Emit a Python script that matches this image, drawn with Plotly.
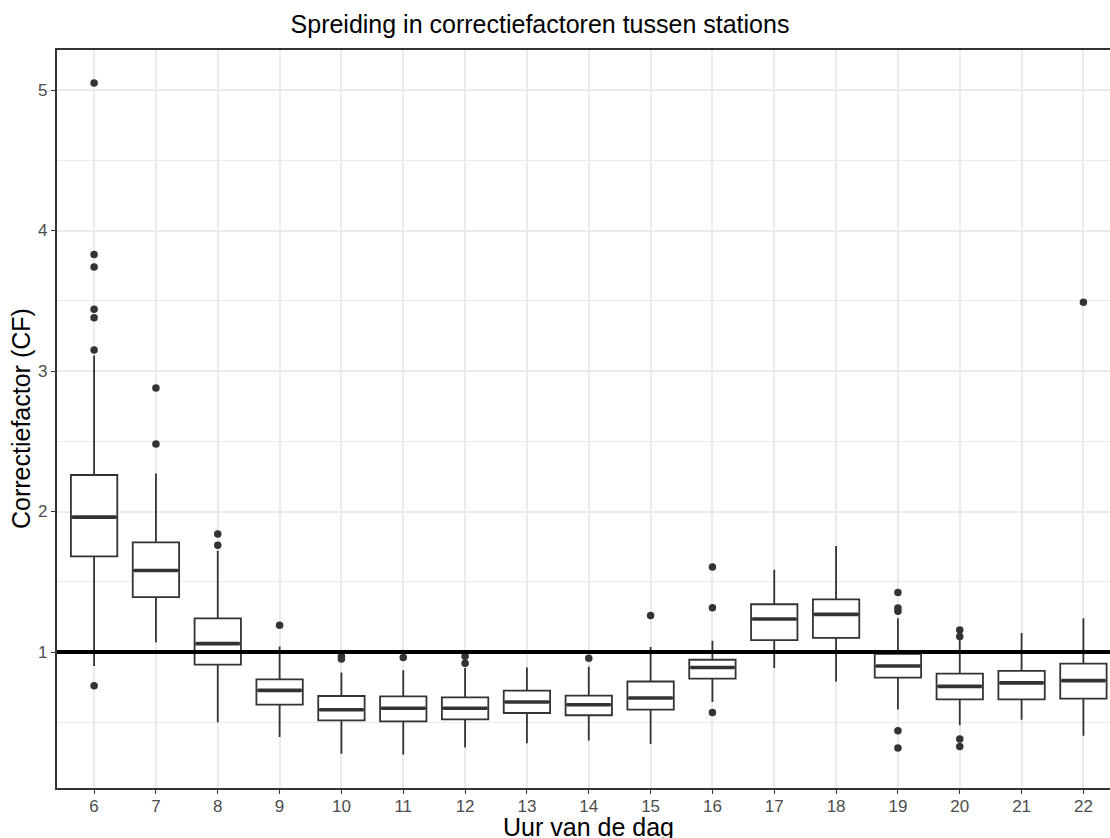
import plotly.graph_objects as go

hours = [6, 7, 8, 9, 10, 11, 12, 13, 14, 15, 16, 17, 18, 19, 20, 21, 22]
lower_whisker = [0.90, 1.07, 0.50, 0.395, 0.276, 0.27, 0.32, 0.35, 0.37, 0.345, 0.644, 0.886, 0.79, 0.59, 0.478, 0.518, 0.404]
q1 = [1.68, 1.39, 0.91, 0.625, 0.513, 0.506, 0.52, 0.566, 0.55, 0.59, 0.81, 1.085, 1.10, 0.817, 0.663, 0.663, 0.668]
median = [1.96, 1.58, 1.06, 0.727, 0.589, 0.60, 0.60, 0.644, 0.625, 0.673, 0.89, 1.235, 1.268, 0.90, 0.755, 0.78, 0.796]
q3 = [2.26, 1.78, 1.24, 0.805, 0.687, 0.684, 0.677, 0.725, 0.69, 0.79, 0.945, 1.34, 1.374, 0.986, 0.846, 0.865, 0.917]
upper_whisker = [3.11, 2.27, 1.72, 1.04, 0.855, 0.87, 0.886, 0.89, 0.895, 1.036, 1.08, 1.586, 1.754, 1.24, 1.088, 1.135, 1.24]

outlier_hours = [6, 6, 6, 6, 6, 6, 6, 7, 7, 8, 8, 9, 10, 10, 11, 12, 12, 14, 15,
                 16, 16, 16, 19, 19, 19, 19, 19, 20, 20, 20, 20, 22]
outlier_values = [5.05, 3.83, 3.74, 3.44, 3.38, 3.15, 0.76, 2.88, 2.48, 1.84, 1.76, 1.19, 0.97, 0.95, 0.96, 0.97, 0.92, 0.955, 1.26,
                  1.605, 1.315, 0.57, 1.424, 1.313, 1.29, 0.44, 0.317, 1.157, 1.11, 0.38, 0.328, 3.49]

reference_value = 1.0
title_text = "Spreiding in correctiefactoren tussen stations"
x_title = "Uur van de dag"
y_title = "Correctiefactor (CF)"

BOX_W = 0.75
DARK = "#333333"
GRID = "#EBEBEB"
FONT = "Liberation Sans, Arial, sans-serif"

fig = go.Figure()

fig.add_trace(go.Box(
    x=hours, q1=q1, median=median, q3=q3,
    lowerfence=lower_whisker, upperfence=upper_whisker,
    width=BOX_W, boxpoints=False, whiskerwidth=0,
    fillcolor="white", line=dict(color=DARK, width=1.8),
    showlegend=False, hoverinfo="skip",
))

# thicker median bars (ggplot style)
mx, my = [], []
for h, m in zip(hours, median):
    mx += [h - BOX_W / 2 + 0.02, h + BOX_W / 2 - 0.02, None]
    my += [m, m, None]
fig.add_trace(go.Scatter(x=mx, y=my, mode="lines", line=dict(color=DARK, width=3.6),
                         showlegend=False, hoverinfo="skip"))

fig.add_trace(go.Scatter(x=outlier_hours, y=outlier_values, mode="markers",
                         marker=dict(color=DARK, size=7.5), showlegend=False, hoverinfo="skip"))

fig.add_hline(y=reference_value, line=dict(color="black", width=4), layer="above")

fig.update_layout(
    width=1110, height=838,
    margin=dict(l=57, r=0, t=50, b=50),
    paper_bgcolor="white", plot_bgcolor="white",
    font=dict(family=FONT, color="#4D4D4D"),
    title=dict(text=title_text, x=540 / 1110, xanchor="center",
               y=1 - 24 / 838, yanchor="middle", yref="container",
               font=dict(size=25, color="black", family=FONT)),
    showlegend=False,
)

fig.update_xaxes(
    range=[5.4, 22.43], tickmode="array", tickvals=hours, ticktext=[str(h) for h in hours],
    showgrid=True, gridcolor=GRID, gridwidth=1.6,
    showline=True, linecolor=DARK, linewidth=1.5, mirror=True,
    ticks="outside", ticklen=4.5, tickcolor=DARK, tickwidth=1.2,
    tickfont=dict(size=17, color="#4D4D4D"), zeroline=False,
    ticklabelstandoff=-3,
)
fig.update_yaxes(
    range=[0.032, 5.285], tickmode="array", tickvals=[1, 2, 3, 4, 5],
    showgrid=True, gridcolor=GRID, gridwidth=1.6,
    minor=dict(tickmode="array", tickvals=[0.5, 1.5, 2.5, 3.5, 4.5], showgrid=True,
               gridcolor=GRID, gridwidth=0.8, ticks=""),
    showline=True, linecolor=DARK, linewidth=1.5, mirror=False,
    ticks="outside", ticklen=4.5, tickcolor=DARK, tickwidth=1.2,
    tickfont=dict(size=17, color="#4D4D4D"), zeroline=False,
)

fig.add_annotation(text=x_title, xref="paper", yref="paper", x=(588 - 57) / 1053,
                   y=0, yanchor="middle", yshift=-39, showarrow=False,
                   font=dict(size=25, color="black", family=FONT))
fig.add_annotation(text=y_title, xref="paper", yref="paper", x=0, xanchor="center", xshift=-36,
                   y=0.5, yanchor="middle", textangle=-90, showarrow=False,
                   font=dict(size=25, color="black", family=FONT))

fig.write_html("out.html")
